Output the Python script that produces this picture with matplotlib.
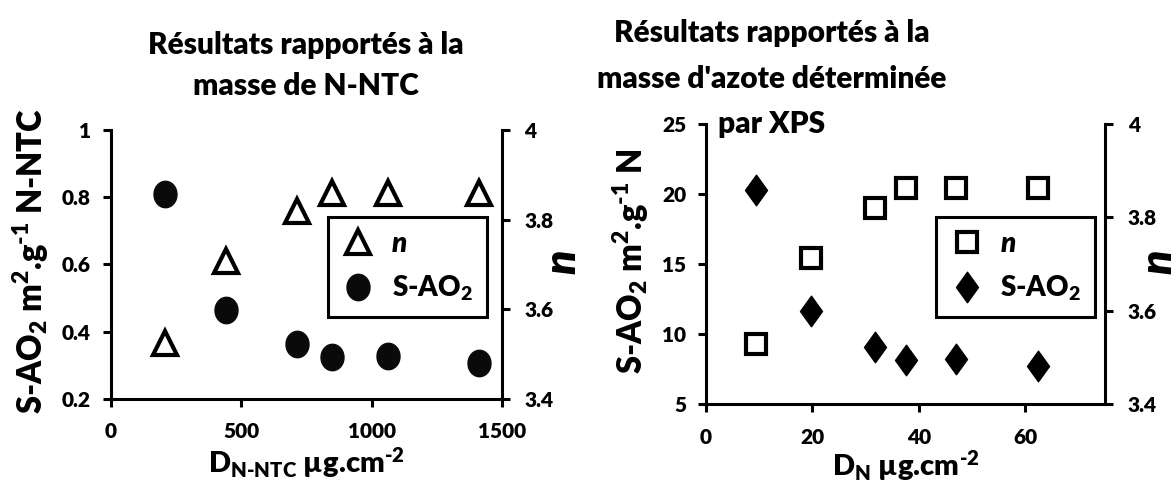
import matplotlib
matplotlib.use("Agg")
import matplotlib.pyplot as plt
from matplotlib.path import Path
import numpy as np

plt.rcParams['font.family'] = ['Lato', 'DejaVu Sans']
plt.rcParams['font.weight'] = 'heavy'
plt.rcParams['axes.labelweight'] = 'heavy'
plt.rcParams['mathtext.fontset'] = 'custom'
plt.rcParams['mathtext.rm'] = 'Lato:heavy'
plt.rcParams['mathtext.it'] = 'Lato:heavy:italic'
plt.rcParams['mathtext.bf'] = 'Lato:heavy'
plt.rcParams['mathtext.default'] = 'regular'

# left panel: per mass of N-NTC
d_nntc = [208, 443, 713, 848, 1061, 1412]
sao2_nntc = [0.808, 0.465, 0.362, 0.323, 0.327, 0.307]
n_nntc = [3.524, 3.708, 3.820, 3.859, 3.859, 3.859]

# right panel: per mass of nitrogen (XPS)
d_n = [9.4, 19.8, 31.7, 37.6, 47.0, 62.3]
sao2_n = [20.3, 11.67, 9.1, 8.14, 8.24, 7.71]
n_xps = [3.529, 3.712, 3.821, 3.862, 3.862, 3.862]

# slightly tall ellipse and diamond, like the excel markers
t = np.linspace(0, 2 * np.pi, 60)
ellipse = Path(np.column_stack([0.87 * np.cos(t), np.sin(t)]), closed=True)
diamond = Path([(0, 1), (0.72, 0), (0, -1), (-0.72, 0), (0, 1)], closed=True)

LW = 2.2
TICK = 15

fig = plt.figure(figsize=(11.76, 4.93), dpi=100)


def style(ax, axr):
    for a in (ax, axr):
        a.spines['top'].set_visible(False)
        for s in a.spines.values():
            s.set_linewidth(LW)
    ax.spines['right'].set_visible(False)
    axr.spines['left'].set_visible(False)
    axr.spines['bottom'].set_visible(False)
    ax.tick_params(axis='both', direction='out', length=6, width=LW,
                   labelsize=TICK)
    ax.tick_params(axis='x', pad=11)
    ax.tick_params(axis='y', pad=8)
    axr.tick_params(axis='y', direction='out', length=6, width=LW,
                    labelsize=TICK, pad=10)
    axr.set_ylim(3.4, 4)
    axr.set_yticks([3.4, 3.6, 3.8, 4.0])
    axr.set_yticklabels(['3.4', '3.6', '3.8', '4'], fontweight='heavy')


def add_legend(axr, h_n, h_s, x0, y0):
    leg = axr.legend([h_n, h_s], ['n', 'S-AO$_2$'], loc='upper left',
                     bbox_to_anchor=(x0, y0), borderaxespad=0,
                     fontsize=20, fancybox=False, framealpha=1,
                     edgecolor='black', numpoints=1, handlelength=1.2,
                     handletextpad=0.6, labelspacing=0.6, borderpad=0.5)
    leg.get_frame().set_linewidth(LW)
    leg.get_texts()[0].set_fontstyle('italic')
    return leg


# ---- left panel
ax1 = fig.add_axes([0.094, 0.1913, 0.333, 0.545])
ax1r = ax1.twinx()
style(ax1, ax1r)
ax1.set_xlim(0, 1500)
ax1.set_xticks([0, 500, 1000, 1500])
ax1.set_ylim(0.2, 1)
ax1.set_yticks([0.2, 0.4, 0.6, 0.8, 1.0])
ax1.set_yticklabels(['0.2', '0.4', '0.6', '0.8', '1'])

h_s1, = ax1.plot(d_nntc, sao2_nntc, ls='none', marker=ellipse, ms=19,
                 color='#0a0a0a', mec='#0a0a0a')
h_n1, = ax1r.plot(d_nntc, n_nntc, ls='none', marker='^', ms=17, mew=3,
                  mfc='white', mec='black')
add_legend(ax1r, h_n1, h_s1, 0.555, 0.676)

ax1.set_xlabel('D$_{\\text{N-NTC}}$ µg.cm$^{\\text{-2}}$', fontsize=21,
               fontweight='heavy', labelpad=3)
fig.text(0.026, 0.47, 'S-AO$_2$ m$^2$.g$^{\\text{-1}}$ N-NTC', fontsize=23.5,
         rotation=90, ha='center', va='center')
fig.text(562 / 1176, 0.47, 'n', fontsize=32, fontstyle='italic',
         rotation=90, ha='center', va='center')

fig.text(306 / 1176, 1 - 45 / 493, 'Résultats rapportés à la',
         fontsize=21.5, ha='center', va='center')
fig.text(306 / 1176, 1 - 86 / 493, 'masse de N-NTC',
         fontsize=21.5, ha='center', va='center')

# ---- right panel
ax2 = fig.add_axes([0.600, 0.1805, 0.340, 0.568])
ax2r = ax2.twinx()
style(ax2, ax2r)
ax2.set_xlim(0, 75)
ax2.set_xticks([0, 20, 40, 60])
ax2.set_ylim(5, 25)
ax2.set_yticks([5, 10, 15, 20, 25])

h_s2, = ax2.plot(d_n, sao2_n, ls='none', marker=diamond, ms=22,
                 color='black')
h_n2, = ax2r.plot(d_n, n_xps, ls='none', marker='s', ms=15, mew=3,
                  mfc='white', mec='black')
add_legend(ax2r, h_n2, h_s2, 0.577, 0.668)

ax2.set_xlabel('D$_{\\text{N}}$ µg.cm$^{\\text{-2}}$', fontsize=21,
               fontweight='heavy', labelpad=1)
fig.text(631 / 1176, 0.47, 'S-AO$_2$ m$^2$.g$^{\\text{-1}}$ N', fontsize=23.5,
         rotation=90, ha='center', va='center')
fig.text(1158 / 1176, 0.47, 'n', fontsize=32, fontstyle='italic',
         rotation=90, ha='center', va='center')

fig.text(772 / 1176, 1 - 33 / 493, 'Résultats rapportés à la',
         fontsize=21.5, ha='center', va='center')
fig.text(772 / 1176, 1 - 79 / 493, "masse d'azote déterminée",
         fontsize=21.5, ha='center', va='center')
fig.text(772 / 1176, 1 - 124 / 493, 'par XPS',
         fontsize=21.5, ha='center', va='center')

fig.savefig('out.png', dpi=100)
